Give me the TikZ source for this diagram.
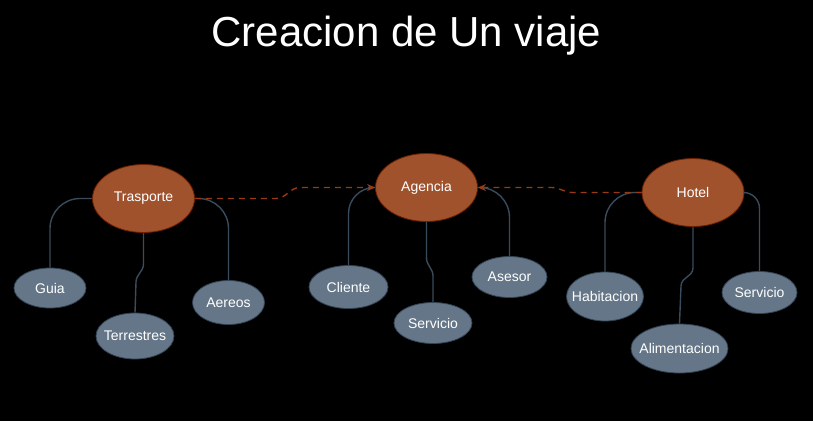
\documentclass[tikz,border=0pt]{standalone}
\usepackage{fontspec}
\setmainfont{Liberation Sans}
\usetikzlibrary{shapes.geometric,arrows.meta}
\definecolor{bgc}{HTML}{000000}
\definecolor{mainfill}{HTML}{A0522D}
\definecolor{mainline}{HTML}{6D1F00}
\definecolor{subfill}{HTML}{647687}
\definecolor{subline}{HTML}{314354}
\definecolor{treec}{HTML}{3A4B5C}
\definecolor{linkc}{HTML}{983A14}
\newcommand{\zb}[1]{\makebox[0pt]{#1}}
\tikzset{
  mainnode/.style={ellipse,draw=mainline,fill=mainfill,text=white,line width=0.8pt,inner sep=0pt,
    minimum width=102pt,minimum height=68pt,font=\fontsize{14}{16}\selectfont},
  subnode/.style={ellipse,draw=subline,fill=subfill,text=white,line width=0.8pt,inner sep=0pt,
    font=\fontsize{14}{16}\selectfont},
  tree/.style={draw=treec,line width=1.4pt},
  link/.style={draw=linkc,line width=1.4pt,dash pattern=on 6pt off 5pt,-{Stealth[length=8pt,width=7pt]}}
}
\begin{document}
\begin{tikzpicture}[x=1pt,y=-1pt]
\fill[bgc] (0,0) rectangle (813,421);
\useasboundingbox (0,0) rectangle (813,421);
\node[text=white,font=\fontsize{42}{48}\selectfont,anchor=base] (title) at (406.5,46) {Creacion de Un viaje};

\node[mainnode] (tr) at (143.5,198.5) {Trasporte};
\node[mainnode] (ag) at (426.5,187.5) {Agencia};
\node[mainnode] (ho) at (693,192.5) {Hotel};

\node[subnode,minimum width=72pt,minimum height=40pt] (gu) at (50,288) {\zb{Guia}};
\node[subnode,minimum width=78pt,minimum height=46pt] (te) at (135,336) {\zb{Terrestres}};
\node[subnode,minimum width=72pt,minimum height=44pt] (ae) at (228.5,302.5) {\zb{Aereos}};

\node[subnode,minimum width=79pt,minimum height=43pt] (cl) at (348.5,287) {\zb{Cliente}};
\node[subnode,minimum width=78pt,minimum height=41pt] (s1) at (433,323) {\zb{Servicio}};
\node[subnode,minimum width=75pt,minimum height=41pt] (as) at (509.5,277) {\zb{Asesor}};

\node[subnode,minimum width=77pt,minimum height=49pt] (hb) at (605,296.5) {\zb{Habitacion}};
\node[subnode,minimum width=97pt,minimum height=49pt] (al) at (679.5,348.5) {\zb{Alimentacion}};
\node[subnode,minimum width=75pt,minimum height=42pt] (s2) at (759.5,292.5) {\zb{Servicio}};

\coordinate (t1) at (143.5,264);
\coordinate (t2) at (136,282);
\coordinate (a1) at (426.5,258);
\coordinate (a2) at (433,276);
\coordinate (h1) at (693,268);
\coordinate (h2) at (681,286);

\draw[tree,rounded corners=30pt] (tr.west) -| (gu.north);
\draw[tree] (tr.south) -- (t1) to[out=-90,in=90] (t2) -- (te.north);
\draw[tree,rounded corners=30pt] (tr.east) -| (ae.north);

\draw[tree,rounded corners=26pt] (ag.west) -| (cl.north);
\draw[tree] (ag.south) -- (a1) to[out=-90,in=90] (a2) -- (s1.north);
\draw[tree,rounded corners=30pt] (ag.east) -| (as.north);

\draw[tree,rounded corners=30pt] (ho.west) -| (hb.north);
\draw[tree] (ho.south) -- (h1) to[out=-90,in=90] (h2) -- (al.north);
\draw[tree,rounded corners=16pt] (ho.east) -| (s2.north);

\coordinate (d1) at (276,198.5);
\coordinate (d2) at (300,187.5);
\coordinate (e1) at (572,192.5);
\coordinate (e2) at (552,187.5);
\draw[link] (tr.east) -- (d1) to[out=0,in=180] (d2) -- (ag.west);
\draw[link] (ho.west) -- (e1) to[out=180,in=0] (e2) -- (ag.east);
\end{tikzpicture}
\end{document}
